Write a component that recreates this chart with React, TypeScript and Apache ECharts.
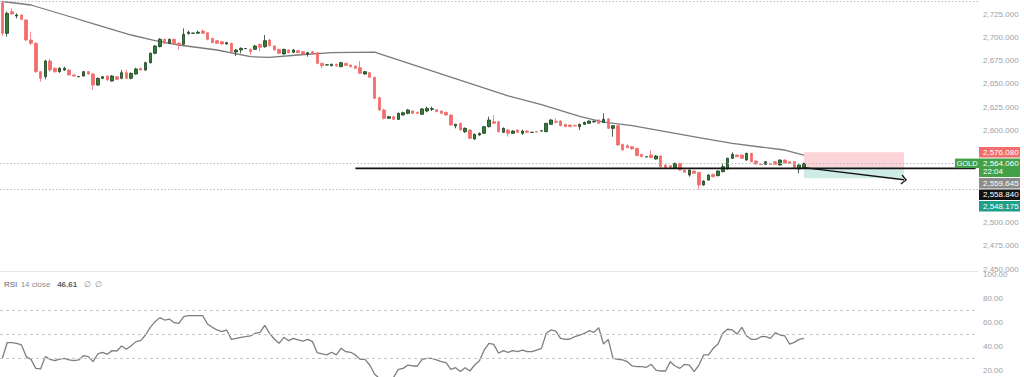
import React, { useEffect, useRef } from 'react';
import * as echarts from 'echarts';

// ---------- data ----------
const SLOT_COUNT = 205;
const slotLabels = Array.from({ length: SLOT_COUNT }, (_, i) => String(i));

// candles: [open, close, low, high]
const candles: number[][] = [
  [2737.7, 2704.6, 2702, 2739], [2704.6, 2726.2, 2701, 2728], [2728, 2725.5, 2724.4, 2731.6], [2723.3, 2724.4, 2720.8, 2726.2],
  [2724.4, 2719.7, 2719, 2725], [2719, 2697.4, 2696, 2720], [2697.4, 2693.8, 2692, 2706.4], [2693.8, 2663.2, 2662, 2695],
  [2663.2, 2656, 2652.4, 2664], [2657.8, 2674.7, 2655, 2676], [2674.7, 2665, 2663, 2677], [2666.8, 2663.2, 2662, 2668],
  [2663.2, 2666.8, 2662, 2668], [2665, 2666.8, 2664, 2668.5], [2665, 2659.6, 2659, 2666], [2659.6, 2658.5, 2658, 2660.5],
  [2657.6, 2658.0, 2657.4, 2658.2], [2658.5, 2663.2, 2658, 2664], [2663.2, 2660.7, 2660, 2664], [2660.7, 2648.8, 2643.4, 2661.5],
  [2648.8, 2656, 2648, 2657], [2656, 2657.8, 2655, 2658.5], [2658.5, 2654.2, 2653.5, 2659], [2653.1, 2658.5, 2652.5, 2659.5],
  [2657.8, 2654.9, 2654, 2658.5], [2656, 2662.1, 2655, 2665], [2662.1, 2656, 2655, 2665.5], [2656, 2661.4, 2655, 2662.5],
  [2660.7, 2666.1, 2660, 2667.5], [2666.8, 2665, 2664.5, 2667.5], [2665, 2672.9, 2664, 2674], [2672.9, 2683, 2672, 2684],
  [2683, 2690.9, 2682, 2692], [2690.2, 2698.1, 2689.5, 2699.5], [2698.1, 2693.8, 2693, 2699], [2693.8, 2698.1, 2693, 2699],
  [2698.1, 2693.8, 2693, 2699], [2694, 2692, 2686.6, 2695], [2692.7, 2703.5, 2692, 2710], [2704.5, 2705.8, 2703, 2707.5],
  [2704.6, 2704.9, 2704.3, 2705.2], [2704.7, 2705.8, 2704, 2707.5], [2707, 2704.6, 2704, 2709], [2705.3, 2698.1, 2697, 2706],
  [2699, 2694.5, 2694, 2700], [2696.6, 2693.8, 2693, 2697.5], [2695.6, 2693.1, 2692.5, 2696.5], [2693.1, 2694.5, 2692.5, 2695.5],
  [2693.8, 2684.8, 2684, 2694.5], [2684.5, 2686.6, 2680, 2687.5], [2686.6, 2688.4, 2683, 2689.5], [2688.0, 2688.2, 2687.6, 2688.6],
  [2687.3, 2684.8, 2681.2, 2688], [2687.3, 2690.9, 2686.5, 2692], [2692.7, 2689.5, 2684.8, 2693.5], [2690.2, 2696.7, 2689, 2702.8],
  [2697.4, 2691.3, 2690.5, 2698.5], [2690.9, 2686.6, 2686, 2691.5], [2687.3, 2683, 2682, 2688], [2682.3, 2687.3, 2681.5, 2688],
  [2686.6, 2683.7, 2683, 2687.5], [2684.1, 2686.6, 2683.5, 2687.5], [2685.9, 2683.7, 2683, 2686.5], [2684.8, 2682.3, 2681.5, 2685.5],
  [2682.3, 2683.7, 2679.4, 2684.5], [2684.8, 2682.3, 2681.5, 2685.5], [2683.7, 2672.2, 2671, 2684.5], [2672.2, 2669.7, 2666.8, 2673],
  [2670.4, 2670.6, 2670, 2671], [2669.7, 2671.1, 2669, 2672], [2671.1, 2669.3, 2668.8, 2672], [2668.6, 2672.9, 2668, 2673.8],
  [2672.2, 2670, 2669.5, 2673], [2670.4, 2668.6, 2668, 2671], [2669.3, 2666.8, 2666, 2670], [2667.5, 2661.4, 2660.7, 2674.7],
  [2660.7, 2663.2, 2660, 2664], [2662.1, 2657.1, 2656.5, 2663], [2657.1, 2634.4, 2633.5, 2658], [2635.1, 2621.8, 2620.5, 2636],
  [2621.8, 2612.8, 2611.5, 2623], [2612.8, 2614.6, 2612, 2615.5], [2614.6, 2611.7, 2611, 2615.5], [2611.7, 2618.2, 2611, 2619],
  [2616.4, 2618.9, 2616, 2620], [2618.2, 2621.8, 2617, 2623], [2620.7, 2618.2, 2617.5, 2621.5], [2619.3, 2618.2, 2617.8, 2620],
  [2617.1, 2622.9, 2616.5, 2624], [2620.7, 2623.6, 2619.3, 2625.4], [2622.5, 2623.3, 2620.7, 2625.4], [2622.2, 2620, 2619.5, 2623],
  [2620.7, 2618.2, 2617.5, 2621.5], [2619.3, 2616.4, 2615.8, 2620], [2616.4, 2605.6, 2605, 2617], [2604.6, 2606.3, 2602, 2607],
  [2607.4, 2600.2, 2599.5, 2608], [2598.4, 2602, 2597, 2603], [2600.2, 2591.2, 2590.5, 2601], [2590.5, 2595.5, 2589.5, 2596.5],
  [2594.8, 2596.6, 2594, 2597.5], [2596.6, 2603.8, 2596, 2604.5], [2603.8, 2611, 2603, 2614.6], [2609.2, 2607.4, 2607, 2616.4],
  [2609.2, 2598.4, 2597.8, 2610], [2597.7, 2602, 2597, 2603], [2600.2, 2596.6, 2593, 2601], [2596.6, 2599.1, 2596, 2600],
  [2600.2, 2597.7, 2597, 2601], [2596.6, 2599.1, 2595, 2600.5], [2599.1, 2597.7, 2597, 2600], [2597.6, 2597.8, 2597.3, 2598.2],
  [2598.6, 2598.0, 2597.6, 2599], [2599.1, 2599.3, 2598.8, 2599.8], [2598.4, 2607.4, 2598, 2608], [2606.3, 2611, 2605.6, 2612],
  [2609.6, 2608.5, 2607.4, 2612.8], [2609.9, 2604.9, 2604.2, 2610.5], [2606.3, 2603.8, 2603.3, 2607], [2605.6, 2603.8, 2603.3, 2606.2],
  [2605.2, 2604.5, 2604, 2605.8], [2603.8, 2606.3, 2600.2, 2607], [2606.3, 2608.5, 2605.6, 2609.2], [2607.4, 2609.9, 2606.8, 2610.5],
  [2609.0, 2609.6, 2608.2, 2610.5], [2611, 2607.4, 2606.8, 2611.8], [2608.5, 2611.7, 2607.8, 2618.2], [2612, 2602, 2601.4, 2613],
  [2602, 2604.9, 2593, 2605.6], [2604.9, 2584, 2583.4, 2605.6], [2584.7, 2578.6, 2578, 2585.4], [2583.3, 2581.1, 2580.5, 2584.7],
  [2582.2, 2579.7, 2579, 2583], [2580.4, 2572.5, 2572, 2581], [2573.9, 2571.4, 2570.8, 2574.5], [2571.1, 2571.3, 2570.8, 2571.6],
  [2573.2, 2570.3, 2570, 2578.6], [2568.9, 2572.1, 2568.3, 2573], [2572.1, 2560.6, 2560, 2573], [2562.4, 2559.5, 2559, 2563],
  [2561.7, 2559.5, 2559, 2562.3], [2558.8, 2564.2, 2558, 2565], [2564.2, 2557, 2556.4, 2565], [2557, 2554.5, 2554, 2557.6],
  [2551.6, 2557, 2549.8, 2557.6], [2555.9, 2553.4, 2552.8, 2556.5], [2554.5, 2540.8, 2535.8, 2555.1], [2540.8, 2545.1, 2540, 2545.8],
  [2546.2, 2551.6, 2545.6, 2552.2], [2552.3, 2549.8, 2549.2, 2553], [2550.9, 2555.9, 2550.3, 2556.5], [2555.2, 2560.6, 2554.6, 2564.2],
  [2558.1, 2569.6, 2557.5, 2570.3], [2569.6, 2573.9, 2568.9, 2576.1], [2573.2, 2571.4, 2570.8, 2573.8], [2573.2, 2569.6, 2569, 2573.8],
  [2567.8, 2575, 2567.2, 2575.6], [2575, 2566, 2565.4, 2575.6], [2566.7, 2563.5, 2562.9, 2567.3], [2563.2, 2563.0, 2562.6, 2563.6],
  [2563.1, 2566, 2562.5, 2566.6], [2564.2, 2563.1, 2562.6, 2564.8], [2566, 2563.1, 2562.5, 2566.6], [2562.4, 2567.8, 2561.8, 2568.4],
  [2567.8, 2564.2, 2563.6, 2568.4], [2566, 2564.2, 2563.6, 2566.6], [2566, 2558.8, 2558.2, 2566.6], [2558.1, 2562.4, 2553.4, 2563],
  [2559, 2564.06, 2558.5, 2565],
];

// moving average read at key candles: [candle index, value]
const maPoints: number[][] = [
  [0, 2739], [6, 2735.2], [13, 2724.4], [20, 2713.6], [27, 2702.8], [32, 2696.7], [37, 2692], [45, 2686.6],
  [52, 2679.4], [56, 2678.7], [62, 2681.2], [69, 2683.7], [78, 2684.3], [106, 2637], [113, 2627.5], [121, 2615],
  [126, 2608.8], [132, 2604.9], [139, 2598.4], [146, 2591.9], [153, 2585.8], [160, 2581.1], [164, 2578.6], [168, 2573.2],
];

const rsiValues: number[] = [
  30, 43, 43, 42.5, 41.1, 31.4, 29.1, 21.6, 21.1, 31.4, 29.1, 28, 29.4, 30, 28.6, 28, 28.6, 32.2, 31.4, 27.2,
  33.6, 35, 33.3, 36.4, 36.1, 40.2, 37.5, 40.5, 43.9, 44.7, 49.4, 55.8, 60.5, 63.9, 61.9, 62.7, 59.7, 59.1, 64.7, 65.5,
  65.5, 65.5, 65.5, 58.6, 55.8, 53.6, 52.2, 53.6, 45.8, 46.6, 47.5, 48, 48.6, 50.8, 51.6, 57.5, 50.8, 46.1, 42.5, 47.5,
  44.7, 46.6, 45.3, 44.4, 45.8, 43.9, 34.7, 33.6, 32.8, 35, 32.8, 38.3, 35.5, 35, 32.8, 29.1, 29.1, 24.4, 16.9, 13.3,
  10.5, 9.7, 14.1, 20.8, 21.6, 24.4, 23.6, 23.6, 29.1, 30, 30, 28.6, 27.2, 26.4, 20.8, 22.2, 18.9, 22.2, 19.4, 24.4,
  28, 37, 42.5, 41.6, 34.2, 36.4, 35, 36.4, 35.5, 36.9, 35.5, 35.5, 36.9, 38.3, 50.8, 53.6, 52.7, 46.6, 45.8, 46.1,
  48, 49.4, 50.8, 53, 51.6, 55.5, 41.9, 45.8, 30, 29.1, 28.6, 27.2, 23.6, 23.1, 23.1, 22.5, 25, 20.2, 19.4, 19.4,
  27.2, 23.6, 21.6, 25, 24.4, 18.9, 24.4, 32.8, 32.8, 38.3, 41.9, 50.8, 54.2, 53.6, 50.2, 55.8, 48.6, 45.8, 45.8, 48,
  48, 46.6, 51.4, 49.4, 48.6, 41.9, 43.3, 45.8, 46.61,
];
const rsiLevels = [70, 50, 30];

// price pane: visible range (top edge of pane to its bottom)
const priceTicks = { min: 2450, max: 2740.6, interval: 25 };
const rsiTicks = { min: 0, max: 100, interval: 20 };

// drawings
const hLinePrice = 2558.84;
const hLineStart = 74;
const positionStart = 168;
const positionEnd = 189;
const stopPrice = 2576.08;
const entryPrice = 2559.645;
const targetPrice = 2548.175;
const arrowEndPrice = 2546.5;
const countdown = '22:04';
const symbolName = 'GOLD';

const FONT = "'Liberation Sans', Arial, sans-serif";
const fmtPrice = (v: number) =>
  v.toLocaleString('en-US', { minimumFractionDigits: 3, maximumFractionDigits: 3 });

export default function App() {
  const ref = useRef<HTMLDivElement>(null);

  useEffect(() => {
    if (!ref.current) return;
    const chart = echarts.init(ref.current, null, { renderer: 'svg' });
    const lastClose = candles[candles.length - 1][1];
    const maxHigh = Math.max(...candles.map((c) => c[3]));
    const minLow = Math.min(...candles.map((c) => c[2]));
    const lastRsi = rsiValues[rsiValues.length - 1];
    const hideLo = targetPrice - 25;
    const hideHi = stopPrice + 10;

    const chevron = 'path://M0,5.2 L5,0 L10,5.2 L9,6 L5,1.8 L1,6 Z';

    const option: any = {
      animation: false,
      grid: [
        { left: 0, right: 46, top: 0, height: 269.1 },
        { left: 0, right: 46, top: 274.3, height: 120 },
      ],
      xAxis: [
        { type: 'category', gridIndex: 0, data: slotLabels, boundaryGap: true, show: false },
        { type: 'category', gridIndex: 1, data: slotLabels, boundaryGap: true, show: false },
      ],
      yAxis: [
        {
          type: 'value', gridIndex: 0, position: 'right',
          min: priceTicks.min, max: priceTicks.max, interval: priceTicks.interval,
          splitLine: { show: false }, axisLine: { show: false }, axisTick: { show: false },
          axisLabel: {
            color: '#9ea1aa', fontSize: 8, fontFamily: FONT, margin: 5, showMinLabel: true, showMaxLabel: true,
            formatter: (v: number) =>
              Math.abs(v / priceTicks.interval - Math.round(v / priceTicks.interval)) > 1e-6 || (v > hideLo && v < hideHi)
                ? ''
                : fmtPrice(v),
          },
        },
        {
          type: 'value', gridIndex: 1, position: 'right',
          min: rsiTicks.min, max: rsiTicks.max, interval: rsiTicks.interval,
          splitLine: { show: false }, axisLine: { show: false }, axisTick: { show: false },
          axisLabel: {
            color: '#9ea1aa', fontSize: 8, fontFamily: FONT, margin: 5,
            formatter: (v: number) => (v <= 0 ? '' : v.toFixed(2)),
          },
        },
      ],
      series: [
        {
          type: 'candlestick', xAxisIndex: 0, yAxisIndex: 0, data: candles, barWidth: 3,
          itemStyle: {
            color: '#2e7d32', borderColor: '#1c3f1f', color0: '#f26d6d', borderColor0: '#f26d6d', borderWidth: 0.8,
          },
          markLine: {
            silent: true, symbol: ['none', 'none'], label: { show: false },
            lineStyle: { color: '#b9bcc4', type: [1.5, 2], width: 1 },
            data: [{ yAxis: maxHigh }, { yAxis: minLow }, { yAxis: lastClose }],
          },
          markArea: {
            silent: true,
            data: [
              [{ xAxis: positionStart, yAxis: stopPrice, itemStyle: { color: 'rgba(242,54,69,0.22)' } }, { xAxis: positionEnd, yAxis: entryPrice }],
              [{ xAxis: positionStart, yAxis: entryPrice, itemStyle: { color: 'rgba(8,153,129,0.2)' } }, { xAxis: positionEnd, yAxis: targetPrice }],
            ],
          },
          z: 3,
        },
        {
          type: 'line', xAxisIndex: 0, yAxisIndex: 0, data: maPoints, showSymbol: false, symbol: 'none',
          lineStyle: { color: '#7a7a7a', width: 1.3 }, z: 2,
        },
        {
          type: 'line', xAxisIndex: 0, yAxisIndex: 0, showSymbol: false, symbol: 'none',
          data: [[hLineStart, hLinePrice], [SLOT_COUNT - 1, hLinePrice]],
          lineStyle: { color: '#131313', width: 1.8 }, z: 4,
          markLine: {
            silent: true, symbol: ['none', chevron], symbolSize: [10, 6], label: { show: false },
            lineStyle: { color: '#131313', width: 1.3, type: 'solid' },
            data: [[{ coord: [positionStart, entryPrice] }, { coord: [positionEnd, arrowEndPrice] }]],
          },
        },
        {
          type: 'line', xAxisIndex: 1, yAxisIndex: 1, data: rsiValues, showSymbol: false, symbol: 'none',
          lineStyle: { color: '#7e7e7e', width: 1.3 },
          markLine: {
            silent: true, symbol: ['none', 'none'], label: { show: false },
            lineStyle: { color: '#c4c6cc', type: [3, 3], width: 1 },
            data: rsiLevels.map((v) => ({ yAxis: v })),
          },
        },
      ],
    };
    chart.setOption(option);

    // price tags on the axis
    const axisX = chart.getWidth() - 46;
    const toY = (v: number) => chart.convertToPixel({ yAxisIndex: 0 }, v) as number;
    const tags = [
      { value: stopPrice, color: '#f26d6d', lines: [fmtPrice(stopPrice)] },
      { value: lastClose, color: '#43a047', lines: [fmtPrice(lastClose), countdown] },
      { value: entryPrice, color: '#8c8c8c', lines: [fmtPrice(entryPrice)] },
      { value: hLinePrice, color: '#131313', lines: [fmtPrice(hLinePrice)] },
      { value: targetPrice, color: '#1f9e89', lines: [fmtPrice(targetPrice)] },
    ].sort((a, b) => b.value - a.value);
    const lineH = 8;
    const pad = 1.25;
    let prevBottom = -Infinity;
    const graphics: any[] = [];
    let lastTop = 0;
    tags.forEach((t) => {
      const h = pad * 2 + lineH * t.lines.length;
      let top = toY(t.value) - (pad + lineH / 2);
      if (top < prevBottom + 1) top = prevBottom + 1;
      prevBottom = top + h;
      if (t.value === lastClose) lastTop = top;
      graphics.push({ type: 'rect', shape: { x: axisX + 1, y: top, width: 41, height: h }, style: { fill: t.color }, z: 10 });
      t.lines.forEach((s, k) => {
        graphics.push({
          type: 'text', x: axisX + 5, y: top + pad + lineH * (k + 0.5), z: 11,
          style: { text: s, fill: '#ffffff', font: `8px ${FONT}`, align: 'left', verticalAlign: 'middle' },
        });
      });
    });
    graphics.push({ type: 'rect', shape: { x: axisX - 23, y: lastTop, width: 24, height: 9.5 }, style: { fill: '#43a047' }, z: 10 });
    graphics.push({
      type: 'text', x: axisX - 11, y: lastTop + 4.9, z: 11,
      style: { text: symbolName, fill: '#ffffff', font: `7.5px ${FONT}`, align: 'center', verticalAlign: 'middle' },
    });
    // pane separator
    graphics.push({ type: 'line', shape: { x1: 0, y1: 271.5, x2: axisX, y2: 271.5 }, style: { stroke: '#e6e8ee', lineWidth: 1 }, z: 1 });
    // RSI legend
    graphics.push({
      type: 'text', x: 4, y: 284, z: 11,
      style: {
        text: `{a|RSI} {b|14 close}  {c|${lastRsi.toFixed(2)}}  {d|∅  ∅}`,
        verticalAlign: 'middle', align: 'left',
        rich: {
          a: { fill: '#5d606b', fontSize: 8, fontFamily: FONT },
          b: { fill: '#8a8d96', fontSize: 8, fontFamily: FONT },
          c: { fill: '#5d606b', fontSize: 8, fontWeight: 'bold', fontFamily: FONT },
          d: { fill: '#8a8d96', fontSize: 8, fontFamily: FONT },
        },
      },
    });
    chart.setOption({ graphic: graphics });

    return () => chart.dispose();
  }, []);

  return (
    <div
      ref={ref}
      style={{ position: 'fixed', left: 0, top: 0, width: 1024, height: 400, background: '#ffffff' }}
    />
  );
}
